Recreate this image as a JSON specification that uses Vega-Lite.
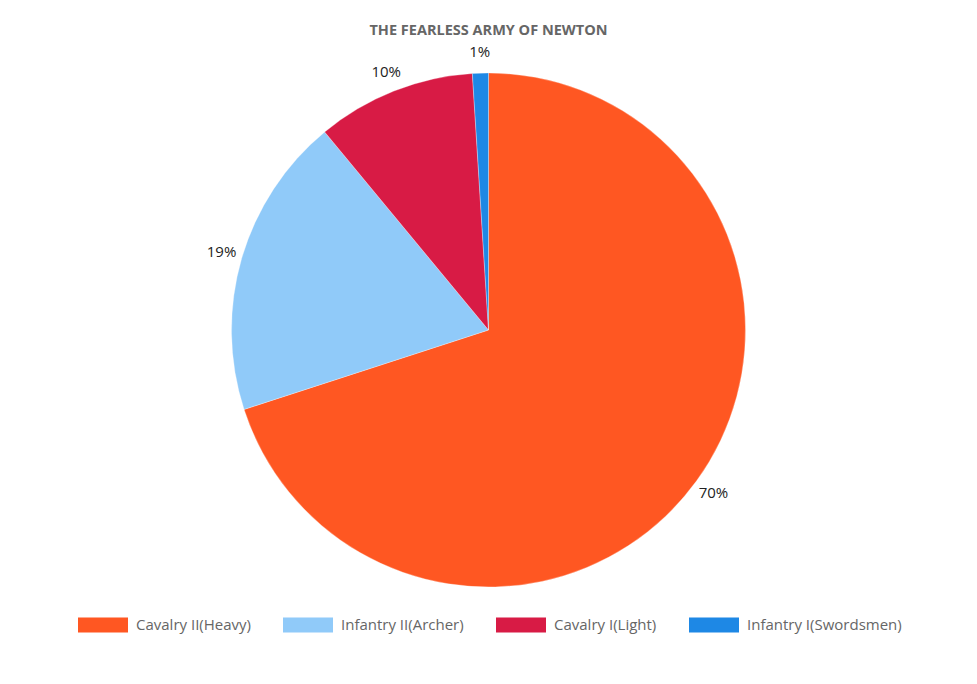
{
  "$schema": "https://vega.github.io/schema/vega-lite/v6.json",
  "width": 977,
  "height": 570,
  "autosize": {"type": "none"},
  "padding": {"left": 0, "right": 0, "top": 45, "bottom": 69},
  "background": "white",
  "view": {"stroke": null},
  "title": {
    "text": "THE FEARLESS ARMY OF NEWTON",
    "anchor": "middle",
    "font": "Open Sans",
    "fontSize": 14.5,
    "fontWeight": "bold",
    "color": "#666666",
    "offset": 7
  },
  "data": {
    "values": [
      {"unit": "Cavalry II(Heavy)", "share": 0.70, "rank": 1},
      {"unit": "Infantry II(Archer)", "share": 0.19, "rank": 2},
      {"unit": "Cavalry I(Light)", "share": 0.10, "rank": 3},
      {"unit": "Infantry I(Swordsmen)", "share": 0.01, "rank": 4}
    ]
  },
  "encoding": {
    "theta": {"field": "share", "type": "quantitative", "stack": true},
    "order": {"field": "rank", "type": "quantitative", "sort": "ascending"}
  },
  "layer": [
    {
      "mark": {"type": "arc", "radius": 257, "stroke": "#ffffff", "strokeWidth": 0.5, "strokeOpacity": 0.6},
      "encoding": {
        "color": {
          "field": "unit",
          "type": "nominal",
          "sort": ["Cavalry II(Heavy)", "Infantry II(Archer)", "Cavalry I(Light)", "Infantry I(Swordsmen)"],
          "scale": {"range": ["#FF5722", "#90CAF9", "#D81B45", "#1E88E5"]},
          "legend": {
            "title": null,
            "orient": "none",
            "direction": "horizontal",
            "legendX": 78,
            "legendY": 555,
            "symbolType": "M-1,-0.3H1V0.3H-1Z",
            "symbolSize": 2500,
            "symbolStrokeWidth": 0,
            "labelFont": "Open Sans",
            "labelFontSize": 15,
            "labelColor": "#666666",
            "labelOffset": 8,
            "columnPadding": 32,
            "padding": 0
          }
        }
      }
    },
    {
      "mark": {"type": "text", "radius": 278, "font": "Open Sans", "fontSize": 15, "fill": "#222222"},
      "encoding": {
        "text": {"field": "share", "type": "quantitative", "format": ".0%"}
      }
    }
  ]
}
